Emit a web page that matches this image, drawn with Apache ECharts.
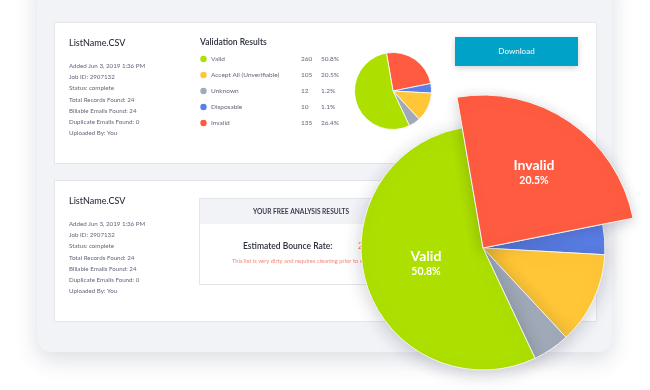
<!DOCTYPE html>
<html>
<head>
<meta charset="utf-8">
<script src="https://cdn.jsdelivr.net/npm/echarts@6/dist/echarts.min.js"></script>
<style>
html,body{margin:0;padding:0;background:#fff;}
#chart{width:650px;height:390px;}
</style>
</head>
<body>
<div id="chart"></div>
<script>
// ---- data ----
const fileName = 'ListName.CSV';
const detailLines = ['Added Jun 3, 2019 1:36 PM', 'Job ID: 2907132', 'Status: complete', 'Total Records Found: 24', 'Billable Emails Found: 24', 'Duplicate Emails Found: 0', 'Uploaded By: You'];
const legendTitle = 'Validation Results';
const legendNames = ['Valid', 'Accept All (Unverifiable)', 'Unknown', 'Disposable', 'Invalid'];
const legendCounts = [260, 105, 12, 10, 135];
const legendPercents = ['50.8%', '20.5%', '1.2%', '1.1%', '26.4%'];
const legendColors = ['#addf00', '#ffc637', '#a1aab8', '#5b7fe8', '#ff5b40'];
// pie slices as drawn (clockwise from the top edge of "Invalid")
const pieNames = ['Invalid', 'Disposable', 'Accept All (Unverifiable)', 'Unknown', 'Valid'];
const pieValues = [24.6, 4.0, 12.2, 4.9, 54.3];
const pieColors = ['#ff5b40', '#5b7fe8', '#ffc637', '#a1aab8', '#addf00'];
const pieLabelTexts = { 'Invalid': '20.5%', 'Valid': '50.8%' };
const analysisHeader = 'YOUR FREE ANALYSIS RESULTS';
const bounceLabel = 'Estimated Bounce Rate:';
const bounceValue = '26.4%';
const bounceNote = 'This list is very dirty and requires cleaning prior to sending.';
const buttonText = 'Download';

// ---- build ----
const FF = 'Lato, "Noto Sans", sans-serif';
const g = [];
// outer panel
g.push({ type: 'rect', z: 0, shape: { x: 37, y: -30, width: 575, height: 382, r: 14 },
  style: { fill: '#f2f3f7', shadowBlur: 22, shadowColor: 'rgba(40,50,90,0.16)', shadowOffsetY: 8 } });
// cards
[[22, 141], [180, 141]].forEach(([y, h]) => {
  g.push({ type: 'rect', z: 1, shape: { x: 54.5, y: y + 0.5, width: 542, height: h },
    style: { fill: '#ffffff', stroke: '#e4e6ec', lineWidth: 1 } });
});
function txt(x, y, text, font, fill, align, z) {
  g.push({ type: 'text', z: z || 3, style: { x: x, y: y, text: text, font: font, fill: fill,
    textAlign: align || 'left', textVerticalAlign: 'middle' } });
}
// card texts
[[43, 66], [201, 224]].forEach(([ty, ly]) => {
  txt(69, ty, fileName, '500 9px ' + FF, '#2b2e3d');
  detailLines.forEach((s, i) => txt(69, ly + i * 11.2, s, '400 6.2px ' + FF, '#62667a'));
});
// validation results table
txt(200, 42, legendTitle, '600 8.5px ' + FF, '#2b2e3d');
legendNames.forEach((n, i) => {
  const y = 59 + i * 16;
  g.push({ type: 'circle', z: 3, shape: { cx: 203.5, cy: y, r: 3.2 }, style: { fill: legendColors[i] } });
  txt(211, y, n, '400 6.5px ' + FF, '#62667a');
  txt(301, y, String(legendCounts[i]), '400 6.5px ' + FF, '#62667a');
  txt(321, y, legendPercents[i], '400 6.5px ' + FF, '#62667a');
});
// download button
g.push({ type: 'rect', z: 2, shape: { x: 455, y: 37, width: 123, height: 29 },
  style: { fill: '#00a2c7', shadowBlur: 6, shadowColor: 'rgba(0,0,0,0.18)', shadowOffsetY: 2 } });
txt(516.5, 51, buttonText, '500 8px ' + FF, '#e6f7fb', 'center');
// analysis box
g.push({ type: 'rect', z: 2, shape: { x: 199.5, y: 198.5, width: 204, height: 86 },
  style: { fill: '#ffffff', stroke: '#e3e5eb', lineWidth: 1 } });
g.push({ type: 'rect', z: 2, shape: { x: 200, y: 199, width: 203, height: 25 },
  style: { fill: '#f2f3f7' } });
txt(301, 212, analysisHeader, '700 6.6px ' + FF, '#3a3d4c', 'center');
txt(243, 246, bounceLabel, '600 8.5px ' + FF, '#2b2e3d');
txt(358, 246, bounceValue, '600 8.5px ' + FF, '#ff7a63');
txt(232, 261, bounceNote, '400 5.8px ' + FF, '#f08a78');

const baseData = pieNames.map((n, i) => ({ name: n, value: pieValues[i], itemStyle: { color: pieColors[i] } }));

function labelFor(show) {
  return {
    show: show, position: 'inside',
    formatter: p => '{n|' + p.name + '}\n{p|' + pieLabelTexts[p.name] + '}',
    rich: {
      n: { fontFamily: FF, fontWeight: 700, fontSize: 14, color: '#ffffff', lineHeight: 16 },
      p: { fontFamily: FF, fontWeight: 700, fontSize: 10.5, color: '#ffffff', lineHeight: 13 }
    }
  };
}

const option = {
  animation: false,
  graphic: { elements: g },
  series: [
    { // small pie
      type: 'pie', z: 5, center: [393, 91], radius: [0, 38.5], startAngle: 99.8,
      label: { show: false }, labelLine: { show: false }, silent: true,
      itemStyle: { borderColor: '#ffffff', borderWidth: 0.8 },
      data: baseData
    },
    { // big pie base
      type: 'pie', z: 6, center: [483, 248], radius: [0, 122], startAngle: 99.8,
      silent: true, labelLine: { show: false },
      itemStyle: { borderColor: '#f4f5f0', borderWidth: 1, shadowBlur: 18, shadowColor: 'rgba(30,40,70,0.22)', shadowOffsetY: 4 },
      data: pieNames.map((n, i) => ({ name: n, value: pieValues[i], itemStyle: { color: pieColors[i] },
        label: Object.assign(labelFor(n === 'Valid'), { offset: [4, -4] }) }))
    },
    { // big pie exploded "Invalid"
      type: 'pie', z: 7, center: [483, 248], radius: [0, 153], startAngle: 99.8,
      silent: true, labelLine: { show: false },
      data: pieNames.map((n, i) => n === 'Invalid'
        ? { name: n, value: pieValues[i],
            itemStyle: { color: pieColors[i], borderColor: '#f4f5f0', borderWidth: 1, shadowBlur: 14, shadowColor: 'rgba(30,40,70,0.2)', shadowOffsetY: 3 },
            label: Object.assign(labelFor(true), { offset: [6, -10] }) }
        : { name: n, value: pieValues[i], itemStyle: { color: 'rgba(0,0,0,0)', borderWidth: 0 }, label: { show: false } })
    }
  ]
};
const chart = echarts.init(document.getElementById('chart'), null, { renderer: 'canvas' });
chart.setOption(option);
</script>
</body>
</html>
